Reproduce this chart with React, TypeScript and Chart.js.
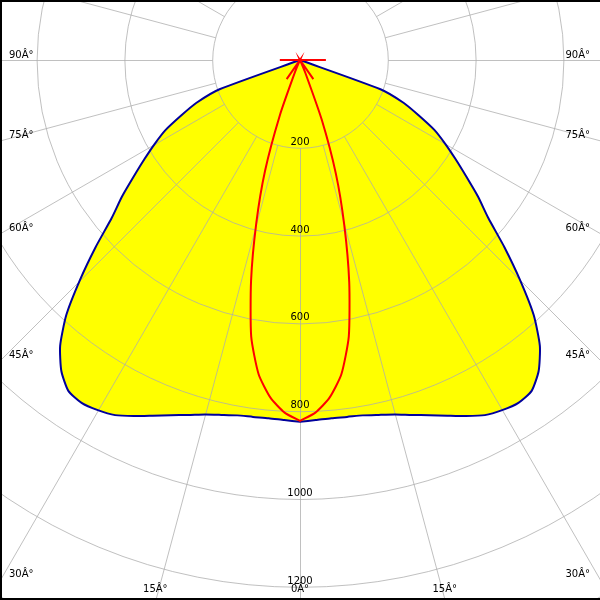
import React, { useEffect, useRef } from "react";
import { Chart, registerables } from "chart.js";

Chart.register(...registerables);

// Angles (degrees from nadir) at which intensities are given
const angles = [
  0, 2.5, 5, 7.5, 10, 12.5, 15, 17.5, 20, 22.5, 25, 27.5, 30, 32.5, 35, 37.5, 40,
  42.5, 45, 47.5, 50, 52.5, 55, 57.5, 60, 62.5, 65, 67.5, 70, 72.5, 75, 77.5, 80,
  82.5, 85, 87.5, 90,
];

// C0-C180 plane (blue, filled yellow), cd
const blueCd = [
  824, 821, 819, 820, 822, 828, 836, 848, 861, 877, 895, 912, 921, 926, 920, 893, 850,
  788, 709, 632, 560, 511, 462, 420, 382, 345, 298, 256, 195, 0, 0, 0, 0,
  0, 0, 0, 0,
];

// C90-C270 plane (red), cd
const redCdLeft = [
  822, 804, 772, 722, 640, 515, 385, 265, 135, 30, 0, 0, 0, 0, 53, 0, 0,
  0, 0, 0, 0, 0, 0, 0, 0, 0, 0, 0, 0, 0, 0, 0, 0,
  0, 0, 0, 46,
];
const redCdRight = [
  822, 804, 772, 722, 640, 518, 390, 272, 145, 32, 0, 0, 0, 0, 53, 0, 0,
  0, 0, 0, 0, 0, 0, 0, 0, 0, 0, 0, 0, 0, 0, 0, 0,
  0, 0, 0, 59,
];

const ringValues = [200, 400, 600, 800, 1000, 1200, 1400];
const ringLabels = [200, 400, 600, 800, 1000, 1200];
const angleLabels = [0, 15, 30, 45, 60, 75, 90];
const spokeStep = 15;

const PX_PER_CD = 0.439;
const W = 600;
const H = 600;
const CX = 300;
const CY = 60;

function toPoints(left: number[], right: number[]) {
  const pts: { x: number; y: number }[] = [];
  for (let i = angles.length - 1; i >= 0; i--) {
    const a = (angles[i] * Math.PI) / 180;
    pts.push({ x: -left[i] * Math.sin(a), y: -left[i] * Math.cos(a) });
  }
  for (let i = 0; i < angles.length; i++) {
    const a = (angles[i] * Math.PI) / 180;
    pts.push({ x: right[i] * Math.sin(a), y: -right[i] * Math.cos(a) });
  }
  return pts;
}

const FONT = "10px 'DejaVu Sans'";

const gridPlugin = {
  id: "polarGrid",
  beforeDatasetsDraw(chart: any) {
    const { ctx, scales } = chart;
    const x = scales.x;
    const y = scales.y;
    const cx = x.getPixelForValue(0);
    const cy = y.getPixelForValue(0);
    const k = (x.getPixelForValue(1000) - cx) / 1000;
    ctx.save();
    ctx.translate(0.5, 0.5);
    ctx.strokeStyle = "rgba(172,172,172,0.76)";
    ctx.lineWidth = 1;
    for (const v of ringValues) {
      ctx.beginPath();
      ctx.arc(cx, cy, v * k, 0, Math.PI * 2);
      ctx.stroke();
    }
    const r0 = ringValues[0] * k;
    const r1 = 2000 * k;
    for (let a = 0; a < 360; a += spokeStep) {
      const rad = (a * Math.PI) / 180;
      const dx = Math.sin(rad);
      const dy = Math.cos(rad);
      ctx.beginPath();
      ctx.moveTo(cx + dx * r0, cy + dy * r0);
      ctx.lineTo(cx + dx * r1, cy + dy * r1);
      ctx.stroke();
    }
    ctx.restore();
  },
  afterDatasetsDraw(chart: any) {
    const { ctx, scales, chartArea } = chart;
    const x = scales.x;
    const y = scales.y;
    const cx = x.getPixelForValue(0);
    const cy = y.getPixelForValue(0);
    const k = (x.getPixelForValue(1000) - cx) / 1000;
    ctx.save();
    ctx.fillStyle = "#000";
    ctx.font = FONT;
    ctx.textBaseline = "alphabetic";
    ctx.textAlign = "center";
    for (const v of ringLabels) {
      ctx.fillText(String(v), cx, cy + v * k - 3);
    }
    const right = chartArea.right;
    const bottom = chartArea.bottom;
    for (const a of angleLabels) {
      const rad = (a * Math.PI) / 180;
      const s = Math.sin(rad);
      const c = Math.cos(rad);
      const sides = a === 0 ? [1] : [-1, 1];
      for (const side of sides) {
        const tSide = s > 1e-9 ? (side > 0 ? right - cx : cx - chartArea.left) / s : Infinity;
        const tBottom = c > 1e-9 ? (bottom - cy) / c : Infinity;
        const text = `${a}Â°`;
        if (tSide < tBottom) {
          const ey = cy + tSide * c;
          if (side < 0) {
            ctx.textAlign = "left";
            ctx.fillText(text, chartArea.left + 9, ey - 2.5);
          } else {
            ctx.textAlign = "right";
            ctx.fillText(text, right - 10, ey - 2.5);
          }
        } else {
          const ex = cx + side * tBottom * s;
          ctx.textAlign = "center";
          ctx.fillText(text, ex, bottom - 8);
        }
      }
    }
    ctx.fillStyle = "#000";
    ctx.fillRect(0, 0, W, 2);
    ctx.fillRect(0, 0, 2, H);
    ctx.fillRect(0, H - 2, W, 2);
    ctx.restore();
  },
};

export default function App() {
  const ref = useRef<HTMLCanvasElement | null>(null);
  useEffect(() => {
    document.body.style.margin = "0";
    const canvas = ref.current;
    if (!canvas) return;
    const chart = new Chart(canvas, {
      type: "scatter",
      data: {
        datasets: [
          {
            label: "C90-C270",
            data: toPoints(redCdLeft, redCdRight),
            showLine: true,
            borderColor: "#ff0000",
            borderWidth: 2,
            backgroundColor: "#ff0000",
            pointRadius: 0,
            tension: 0.2,
            fill: false,
          } as any,
          {
            label: "C0-C180",
            data: toPoints(blueCd, blueCd),
            showLine: true,
            borderColor: "#00009c",
            borderWidth: 2,
            backgroundColor: "#ffff00",
            pointRadius: 0,
            tension: 0.2,
            fill: "shape",
          } as any,
        ],
      },
      options: {
        responsive: false,
        devicePixelRatio: 1,
        animation: false,
        layout: { padding: 0 },
        scales: {
          x: {
            type: "linear",
            display: false,
            bounds: "data",
            min: -CX / PX_PER_CD,
            max: (W - CX) / PX_PER_CD,
          },
          y: {
            type: "linear",
            display: false,
            bounds: "data",
            min: -(H - CY) / PX_PER_CD,
            max: CY / PX_PER_CD,
          },
        },
        plugins: {
          legend: { display: false },
          tooltip: { enabled: false },
          filler: { drawTime: "beforeDatasetsDraw" } as any,
        },
      } as any,
      plugins: [gridPlugin],
    });
    return () => chart.destroy();
  }, []);
  return (
    <div style={{ width: W, height: H }}>
      <canvas ref={ref} width={W} height={H} style={{ display: "block" }} />
    </div>
  );
}
